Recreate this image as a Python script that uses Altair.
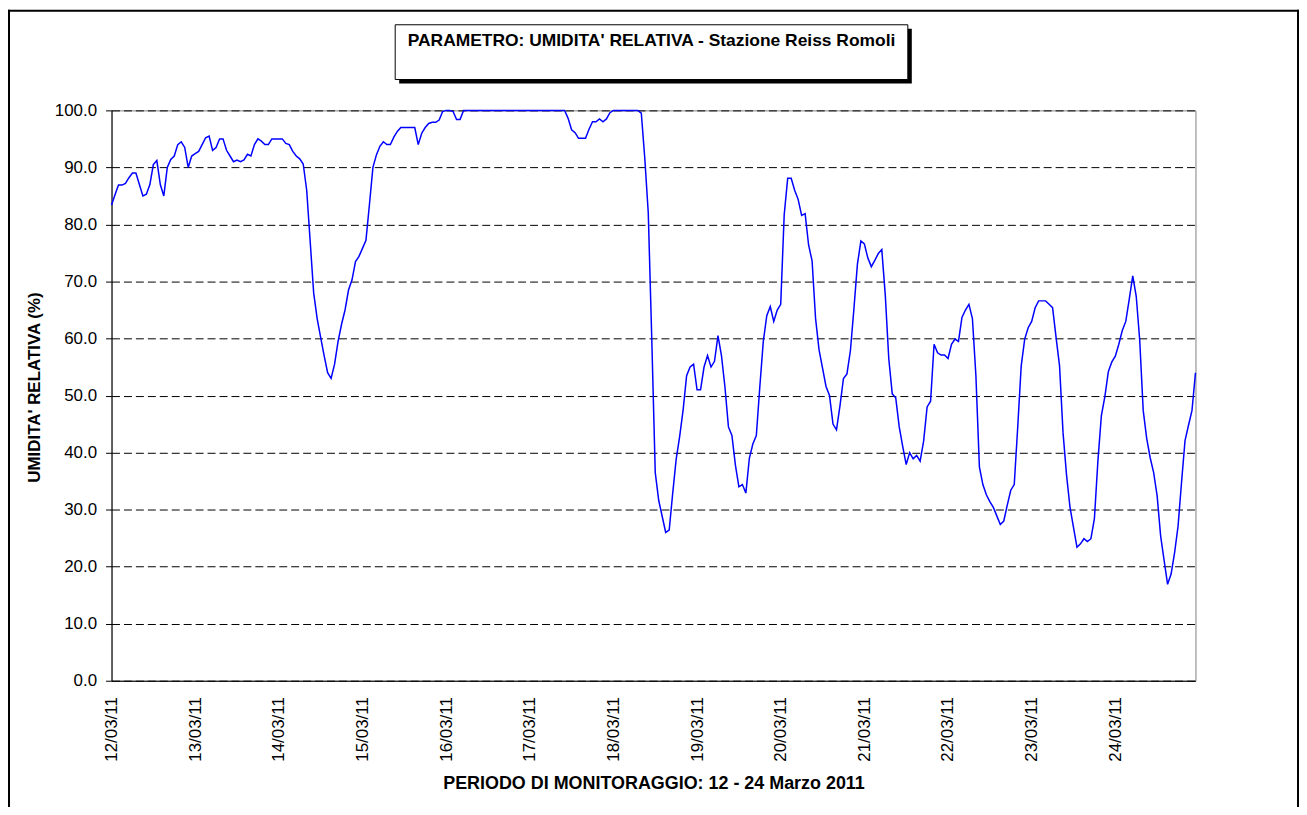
import json
import altair as alt
import pandas as pd

# ---- data -------------------------------------------------------------
day_labels = ["12/03/11", "13/03/11", "14/03/11", "15/03/11", "16/03/11",
              "17/03/11", "18/03/11", "19/03/11", "20/03/11", "21/03/11",
              "22/03/11", "23/03/11", "24/03/11"]

y_ticks = [0, 10, 20, 30, 40, 50, 60, 70, 80, 90, 100]

# hourly relative humidity (%), 12/03 00:00 -> 24/03 23:00
rh_12 = [83.4, 85.2, 86.9, 86.9, 87.2, 88.2, 89.0, 89.0, 87.0, 85.0, 85.3, 87.0,
         90.5, 91.2, 87.0, 85.0, 90.0, 91.4, 92.0, 94.0, 94.5, 93.5, 90.0, 92.0]
rh_13 = [92.4, 92.8, 94.0, 95.2, 95.5, 93.0, 93.5, 95.0, 95.0, 93.0, 92.0, 91.0,
         91.3, 91.0, 91.3, 92.3, 92.0, 94.0, 95.0, 94.6, 94.0, 94.0, 95.0, 95.0]
rh_14 = [95.0, 95.0, 94.2, 94.0, 92.8, 92.0, 91.5, 90.6, 86.0, 77.0, 68.0, 63.5,
         60.2, 57.0, 54.0, 53.0, 55.5, 59.5, 62.5, 65.0, 68.5, 70.3, 73.5, 74.4]
rh_15 = [75.8, 77.2, 83.5, 90.0, 92.2, 93.7, 94.5, 94.0, 94.0, 95.3, 96.3, 97.0,
         97.0, 97.0, 97.0, 97.0, 94.0, 96.0, 97.0, 97.7, 97.9, 97.9, 98.3, 99.8]
rh_16 = [100.0, 100.0, 99.8, 98.4, 98.4, 100.0, 100.0, 100.0, 100.0, 100.0, 100.0, 100.0,
         100.0, 100.0, 100.0, 100.0, 100.0, 100.0, 100.0, 100.0, 100.0, 100.0, 100.0, 100.0]
rh_17 = [100.0, 100.0, 100.0, 100.0, 100.0, 100.0, 100.0, 100.0, 100.0, 100.0, 100.0, 98.6,
         96.6, 96.1, 95.1, 95.1, 95.1, 96.7, 98.0, 98.0, 98.5, 98.0, 98.5, 99.6]
rh_18 = [100.0, 100.0, 100.0, 100.0, 100.0, 100.0, 100.0, 100.0, 99.5, 91.6, 82.0, 60.0,
         36.5, 31.6, 28.8, 26.0, 26.4, 32.8, 38.8, 42.8, 47.5, 53.5, 55.0, 55.5]
rh_19 = [51.0, 51.0, 55.0, 57.0, 55.0, 56.0, 60.5, 57.0, 51.5, 44.5, 43.0, 37.8,
         34.0, 34.4, 32.9, 39.0, 41.5, 43.0, 51.5, 59.5, 64.0, 65.6, 63.0, 65.0]
rh_20 = [66.0, 81.7, 88.1, 88.1, 86.0, 84.4, 81.6, 81.9, 76.4, 73.6, 63.5, 58.0,
         54.8, 51.6, 50.0, 45.0, 44.0, 48.2, 53.0, 53.8, 57.9, 65.2, 73.0, 77.1]
rh_21 = [76.6, 74.1, 72.6, 73.7, 74.9, 75.6, 67.6, 56.5, 50.3, 49.6, 44.5, 41.1,
         37.9, 40.0, 38.9, 39.5, 38.5, 42.0, 48.0, 49.0, 59.0, 57.5, 57.1, 57.1]
rh_22 = [56.5, 59.0, 59.9, 59.5, 63.7, 65.0, 66.0, 63.5, 53.5, 37.5, 34.4, 32.6,
         31.4, 30.4, 28.9, 27.4, 28.0, 30.8, 33.4, 34.4, 44.5, 55.2, 59.9, 61.9]
rh_23 = [63.0, 65.4, 66.6, 66.6, 66.6, 66.0, 65.4, 60.2, 55.2, 43.5, 36.1, 30.4,
         26.9, 23.4, 24.0, 24.9, 24.4, 24.9, 28.4, 38.5, 46.5, 49.8, 54.2, 55.9]
rh_24 = [56.9, 59.0, 61.4, 63.0, 66.9, 71.0, 67.4, 59.7, 47.4, 42.5, 39.1, 36.5,
         32.4, 25.4, 21.1, 16.9, 18.7, 22.4, 27.1, 34.8, 42.1, 44.8, 47.4, 54.0]

rh = rh_12 + rh_13 + rh_14 + rh_15 + rh_16 + rh_17 + rh_18 + rh_19 + rh_20 + rh_21 + rh_22 + rh_23 + rh_24
hours = list(range(len(rh)))

title_text = "PARAMETRO: UMIDITA' RELATIVA - Stazione Reiss Romoli"
x_title = "PERIODO DI MONITORAGGIO: 12 - 24 Marzo 2011"
y_title = "UMIDITA' RELATIVA (%)"

df = pd.DataFrame({"ora": hours, "umidita": rh})
one = pd.DataFrame({"k": [0]})

W, H = 1089, 573
PAD_BOTTOM = 125
FONT = "Liberation Sans"

label_expr = json.dumps(day_labels) + "[round(datum.value / 24)]"

line = alt.Chart(df).mark_line(color="#0000FF", strokeWidth=1.5).encode(
    x=alt.X("ora:Q",
            scale=alt.Scale(domain=[0, len(rh) - 1], nice=False, zero=False),
            axis=alt.Axis(values=[i * 24 for i in range(len(day_labels))],
                          labelExpr=label_expr, labelAngle=-90, labelAlign="right",
                          labelBaseline="middle", ticks=False, labelPadding=16,
                          grid=False, title=x_title, titleY=108,
                          titleBaseline="alphabetic", titleFontSize=18,
                          titleFontWeight="bold", labelFontSize=17,
                          domainColor="#000000", labelColor="#000000",
                          titleColor="#000000", labelFont=FONT, titleFont=FONT)),
    y=alt.Y("umidita:Q",
            scale=alt.Scale(domain=[0, 100], nice=False, zero=True),
            axis=alt.Axis(values=y_ticks, format=".1f", tickSize=6, tickColor="#000000",
                          labelPadding=9, labelFontSize=17, grid=True,
                          gridColor="#000000", gridDash=[8, 4], gridWidth=1,
                          title=y_title, titleX=-77, titleY=278, titleAngle=-90,
                          titleAlign="center", titleBaseline="middle",
                          titleFontSize=17, titleFontWeight="bold",
                          domainColor="#000000", labelColor="#000000",
                          titleColor="#000000", labelFont=FONT, titleFont=FONT)),
)

# outer chart frame (left, top, right edges)
frame_left = alt.Chart(one).mark_rule(color="#000000", strokeWidth=2).encode(
    x=alt.value(-103), y=alt.value(-101), y2=alt.value(H + PAD_BOTTOM + 5))
frame_top = alt.Chart(one).mark_rule(color="#000000", strokeWidth=2).encode(
    x=alt.value(-104), x2=alt.value(1193), y=alt.value(-100))
frame_right = alt.Chart(one).mark_rule(color="#000000", strokeWidth=2).encode(
    x=alt.value(1192), y=alt.value(-101), y2=alt.value(H + PAD_BOTTOM + 5))

# title box with shadow
shadow = alt.Chart(one).mark_rect(color="#000000").encode(
    x=alt.value(289), x2=alt.value(804), y=alt.value(-82), y2=alt.value(-27))
box = alt.Chart(one).mark_rect(fill="#FFFFFF", stroke="#000000", strokeWidth=1).encode(
    x=alt.value(285), x2=alt.value(800), y=alt.value(-86), y2=alt.value(-31))
title = alt.Chart(one).mark_text(font=FONT, fontSize=17.5, fontWeight="bold",
                                 color="#000000", align="center",
                                 baseline="alphabetic").encode(
    x=alt.value(542.5), y=alt.value(-65), text=alt.value(title_text))

chart = alt.layer(frame_left, frame_top, frame_right, shadow, box, title, line).properties(
    width=W, height=H,
    autosize=alt.AutoSizeParams(type="none"),
    padding={"left": 104, "top": 101, "right": 104, "bottom": PAD_BOTTOM},
    background="#FFFFFF",
).configure_view(stroke="#808080", strokeWidth=1)

chart.save("out.html", embed_options={"renderer": "svg", "actions": False})
